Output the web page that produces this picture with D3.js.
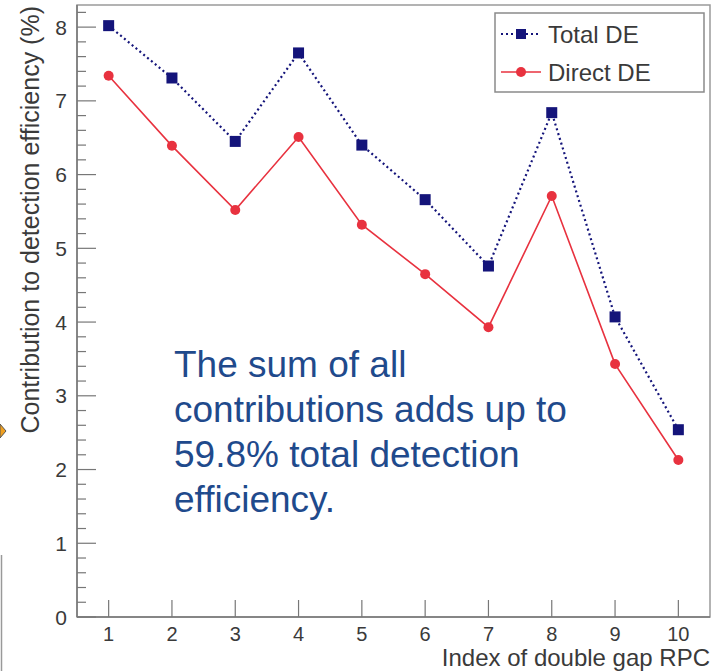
<!DOCTYPE html>
<html>
<head>
<meta charset="utf-8">
<script src="https://cdn.jsdelivr.net/npm/d3@7"></script>
<style>
  body { margin: 0; background: #fff; }
  svg { display: block; font-family: "Liberation Sans", Arial, sans-serif; }
</style>
</head>
<body>
<svg id="chart" width="721" height="671"></svg>
<script>
var rpcIndex = [1, 2, 3, 4, 5, 6, 7, 8, 9, 10];
var totalDE  = [8.02, 7.31, 6.45, 7.65, 6.40, 5.66, 4.76, 6.84, 4.07, 2.54];
var directDE = [7.34, 6.39, 5.52, 6.51, 5.32, 4.65, 3.93, 5.71, 3.43, 2.13];
var yTickLabels = [0, 1, 2, 3, 4, 5, 6, 7, 8];
var noteLines = ["The sum of all", "contributions adds up to", "59.8% total detection", "efficiency."];

var svg = d3.select("svg#chart"),
    margin = {top: 5, right: 11, bottom: 54, left: 77},
    width = +svg.attr("width") - margin.left - margin.right,
    height = +svg.attr("height") - margin.top - margin.bottom;

var x = d3.scaleLinear().domain([0.5, 10.5]).range([margin.left, margin.left + width]);
var y = d3.scaleLinear().domain([0, 8.3]).range([margin.top + height, margin.top]);

var axisCol = "#777", textCol = "#3a3a3a";

// frame
svg.append("rect")
    .attr("x", margin.left).attr("y", margin.top)
    .attr("width", width).attr("height", height)
    .attr("fill", "none").attr("stroke", "#9a9a9a").attr("stroke-width", 1.5);

// y ticks (minor every 0.2, major every 1)
var yt = svg.append("g");
yt.selectAll("line")
  .data(y.ticks(40))
  .enter().append("line")
    .attr("x1", margin.left).attr("x2", function(d) { return Math.abs(d - Math.round(d)) < 1e-6 ? margin.left + 19 : margin.left + 9; })
    .attr("y1", function(d) { return y(d); }).attr("y2", function(d) { return y(d); })
    .attr("stroke", axisCol).attr("stroke-width", 1.2);

yt.selectAll("text")
  .data(yTickLabels)
  .enter().append("text")
    .attr("x", margin.left - 10)
    .attr("y", function(d) { return y(d); })
    .attr("dy", "0.36em")
    .attr("text-anchor", "end")
    .attr("font-size", 21)
    .attr("fill", textCol)
    .text(function(d) { return d; });

// x ticks
var xt = svg.append("g");
xt.selectAll("line")
  .data(rpcIndex)
  .enter().append("line")
    .attr("x1", function(d) { return x(d); }).attr("x2", function(d) { return x(d); })
    .attr("y1", y(0)).attr("y2", y(0) - 17)
    .attr("stroke", axisCol).attr("stroke-width", 1.2);

xt.selectAll("text")
  .data(rpcIndex)
  .enter().append("text")
    .attr("x", function(d) { return x(d); })
    .attr("y", y(0) + 24)
    .attr("text-anchor", "middle")
    .attr("font-size", 20)
    .attr("fill", textCol)
    .text(function(d) { return d; });

// axis lines
svg.append("line").attr("x1", margin.left).attr("x2", margin.left)
    .attr("y1", margin.top).attr("y2", y(0))
    .attr("stroke", axisCol).attr("stroke-width", 1.5);
svg.append("line").attr("x1", margin.left).attr("x2", margin.left + width)
    .attr("y1", y(0)).attr("y2", y(0))
    .attr("stroke", axisCol).attr("stroke-width", 1.5);

// axis titles
svg.append("text")
    .attr("transform", "translate(39," + (margin.top + 1) + ") rotate(-90)")
    .attr("text-anchor", "end")
    .attr("font-size", 25)
    .attr("fill", textCol)
    .text("Contribution to detection efficiency (%)");

svg.append("text")
    .attr("x", margin.left + width)
    .attr("y", 666)
    .attr("text-anchor", "end")
    .attr("font-size", 24)
    .attr("fill", textCol)
    .text("Index of double gap RPC");

// series
var totalCol = "#14147a", directCol = "#e8323f";
var line = d3.line()
    .x(function(d, i) { return x(rpcIndex[i]); })
    .y(function(d) { return y(d); });

svg.append("path")
    .datum(directDE)
    .attr("d", line)
    .attr("fill", "none")
    .attr("stroke", directCol)
    .attr("stroke-width", 1.6);

svg.append("path")
    .datum(totalDE)
    .attr("d", line)
    .attr("fill", "none")
    .attr("stroke", totalCol)
    .attr("stroke-width", 2.2)
    .attr("stroke-dasharray", "2,3");

svg.append("g").selectAll("circle")
  .data(directDE)
  .enter().append("circle")
    .attr("cx", function(d, i) { return x(rpcIndex[i]); })
    .attr("cy", function(d) { return y(d); })
    .attr("r", 5)
    .attr("fill", directCol);

svg.append("g").selectAll("rect")
  .data(totalDE)
  .enter().append("rect")
    .attr("x", function(d, i) { return x(rpcIndex[i]) - 5.5; })
    .attr("y", function(d) { return y(d) - 5.5; })
    .attr("width", 11).attr("height", 11)
    .attr("fill", totalCol);

// legend
var legend = svg.append("g").attr("transform", "translate(495,13)");
legend.append("rect")
    .attr("width", 209).attr("height", 79)
    .attr("fill", "#fff").attr("stroke", "#8a8a8a").attr("stroke-width", 1.5);

var legendItems = [
  {name: "Total DE", color: totalCol, dash: "2,3", sw: 2.2, square: true},
  {name: "Direct DE", color: directCol, dash: null, sw: 1.6, square: false}
];
var li = legend.selectAll("g.item")
  .data(legendItems)
  .enter().append("g")
    .attr("transform", function(d, i) { return "translate(0," + (21 + i * 38) + ")"; });

li.append("line")
    .attr("x1", 6).attr("x2", 46).attr("y1", 0).attr("y2", 0)
    .attr("stroke", function(d) { return d.color; })
    .attr("stroke-width", function(d) { return d.sw; })
    .attr("stroke-dasharray", function(d) { return d.dash; });
li.filter(function(d) { return d.square; }).append("rect")
    .attr("x", 21).attr("y", -5).attr("width", 10).attr("height", 10)
    .attr("fill", function(d) { return d.color; });
li.filter(function(d) { return !d.square; }).append("circle")
    .attr("cx", 26).attr("cy", 0).attr("r", 5)
    .attr("fill", function(d) { return d.color; });
li.append("text")
    .attr("x", 53).attr("dy", "0.36em")
    .attr("font-size", 24)
    .attr("fill", textCol)
    .text(function(d) { return d.name; });

// annotation
svg.append("g").selectAll("text")
  .data(noteLines)
  .enter().append("text")
    .attr("x", 174)
    .attr("y", function(d, i) { return 377 + i * 45; })
    .attr("font-size", 37)
    .attr("fill", "#1f4a8c")
    .text(function(d) { return d; });

// slide leftovers at the left edge
svg.append("path")
    .attr("d", "M0,424 L6,431 L0,438 Z")
    .attr("fill", "#f0a020").attr("stroke", "#555").attr("stroke-width", 1);
svg.append("line")
    .attr("x1", 1.5).attr("x2", 1.5).attr("y1", 555).attr("y2", 671)
    .attr("stroke", "#999").attr("stroke-width", 1.5);
</script>
</body>
</html>
